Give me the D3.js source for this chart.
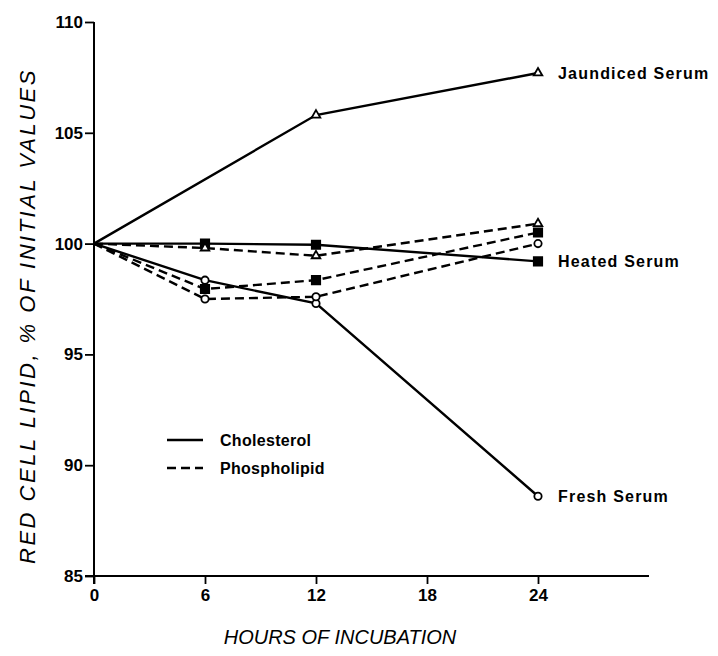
<!DOCTYPE html>
<html>
<head>
<meta charset="utf-8">
<script src="https://cdn.jsdelivr.net/npm/d3@7"></script>
<style>
  body { margin: 0; background: #fff; }
  text { font-family: "Liberation Sans", "DejaVu Sans", sans-serif; fill: #000; }
</style>
</head>
<body>
<svg id="chart" width="718" height="656"></svg>
<script>
// hours of incubation
const hours = [0, 6, 12, 24]
const xTicks = [0, 6, 12, 18, 24]
const yTicks = [85, 90, 95, 100, 105, 110]

// cholesterol (solid lines); jaundiced has no 6 h reading
const jaundicedChol = [100, null, 105.8, 107.7]
const heatedChol = [100, 100.0, 99.95, 99.2]
const freshChol = [100, 98.35, 97.3, 88.6]

// phospholipid (dashed lines)
const jaundicedPhos = [100, 99.8, 99.45, 100.9]
const heatedPhos = [100, 97.95, 98.35, 100.5]
const freshPhos = [100, 97.5, 97.6, 100.0]

const series = [
  {name: "Jaundiced Serum", kind: "chol", marker: "triangle", values: jaundicedChol},
  {name: "Heated Serum", kind: "chol", marker: "square", values: heatedChol},
  {name: "Fresh Serum", kind: "chol", marker: "circle", values: freshChol},
  {name: "Jaundiced Serum", kind: "phos", marker: "triangle", values: jaundicedPhos},
  {name: "Heated Serum", kind: "phos", marker: "square", values: heatedPhos},
  {name: "Fresh Serum", kind: "phos", marker: "circle", values: freshPhos}
]

const svg = d3.select("#chart")

let x = d3.scaleLinear().domain([0, 30]).range([94, 649])
let y = d3.scaleLinear().domain([85, 110]).range([576, 22])

// axes
let yAxis = d3.axisLeft(y).tickValues(yTicks).tickSize(9).tickSizeOuter(0).tickPadding(2)
let gy = svg.append("g").attr("transform", "translate(94,0)").call(yAxis)
gy.select(".domain").attr("d", `M0,${y(110)}V${y(85) + 8}`)

let xAxis = d3.axisBottom(x).tickValues(xTicks).tickSize(8).tickSizeOuter(0).tickPadding(5)
let gx = svg.append("g").attr("transform", `translate(0,${y(85)})`).call(xAxis)
gx.select(".domain").attr("d", `M${x(0) - 9},0H${x(30)}`)

svg.selectAll(".domain").attr("stroke", "#000").attr("stroke-width", 2)
svg.selectAll(".tick line").attr("stroke", "#000").attr("stroke-width", 1.8)
svg.selectAll(".tick text")
  .attr("font-size", 17)
  .attr("font-weight", "bold")
  .attr("fill", "#000")

// only keep readings that exist, so gaps are bridged by a straight line
let pts = s => hours.map((h, i) => ({h: h, v: s.values[i], s: s})).filter(d => d.v != null)

let line = d3.line()
  .x(d => x(d.h))
  .y(d => y(d.v))

svg.append("g").selectAll("path")
  .data(series).enter()
  .append("path")
  .attr("d", s => line(pts(s)))
  .attr("fill", "none")
  .attr("stroke", "#000")
  .attr("stroke-width", 2.4)
  .attr("stroke-dasharray", s => s.kind == "phos" ? "9,5" : null)

// markers (not at hour 0 where all lines meet)
let markerData = series.flatMap(s => pts(s).filter(d => d.h > 0))
let sym = {
  triangle: d3.symbol().type(d3.symbolTriangle).size(32),
  square: d3.symbol().type(d3.symbolSquare).size(70),
  circle: d3.symbol().type(d3.symbolCircle).size(42)
}
svg.append("g").selectAll("path")
  .data(markerData).enter()
  .append("path")
  .attr("d", d => sym[d.s.marker]())
  .attr("transform", d => `translate(${x(d.h)},${y(d.v)})`)
  .attr("fill", d => d.s.marker == "square" ? "#000" : "#fff")
  .attr("stroke", "#000")
  .attr("stroke-width", 1.8)

// series labels at 24 h
svg.append("g").selectAll("text")
  .data(series.filter(s => s.kind == "chol")).enter()
  .append("text")
  .attr("x", x(24) + 20)
  .attr("y", s => y(s.values[3]))
  .attr("dy", "0.35em")
  .attr("font-size", 16)
  .attr("font-weight", "bold")
  .attr("letter-spacing", 1.2)
  .text(s => s.name)

// legend
const legendLabels = ["Cholesterol", "Phospholipid"]
let lg = svg.append("g").selectAll("g")
  .data(legendLabels).enter()
  .append("g")
  .attr("transform", (d, i) => `translate(167,${440 + i * 28})`)
lg.append("line")
  .attr("x1", 0).attr("x2", 36)
  .attr("stroke", "#000").attr("stroke-width", 2.4)
  .attr("stroke-dasharray", (d, i) => i == 1 ? "9,5" : null)
lg.append("text")
  .attr("x", 53)
  .attr("dy", "0.35em")
  .attr("font-size", 16)
  .attr("font-weight", "bold")
  .attr("letter-spacing", 0.3)
  .text(d => d)

// axis titles
svg.append("text")
  .attr("x", 340).attr("y", 644)
  .attr("text-anchor", "middle")
  .attr("font-size", 20)
  .attr("font-style", "italic")
  .text("HOURS OF INCUBATION")

svg.append("text")
  .attr("transform", "translate(35,316) rotate(-90)")
  .attr("text-anchor", "middle")
  .attr("font-size", 22)
  .attr("font-style", "italic")
  .attr("letter-spacing", 2.5)
  .text("RED CELL LIPID,  % OF INITIAL VALUES")
</script>
</body>
</html>
